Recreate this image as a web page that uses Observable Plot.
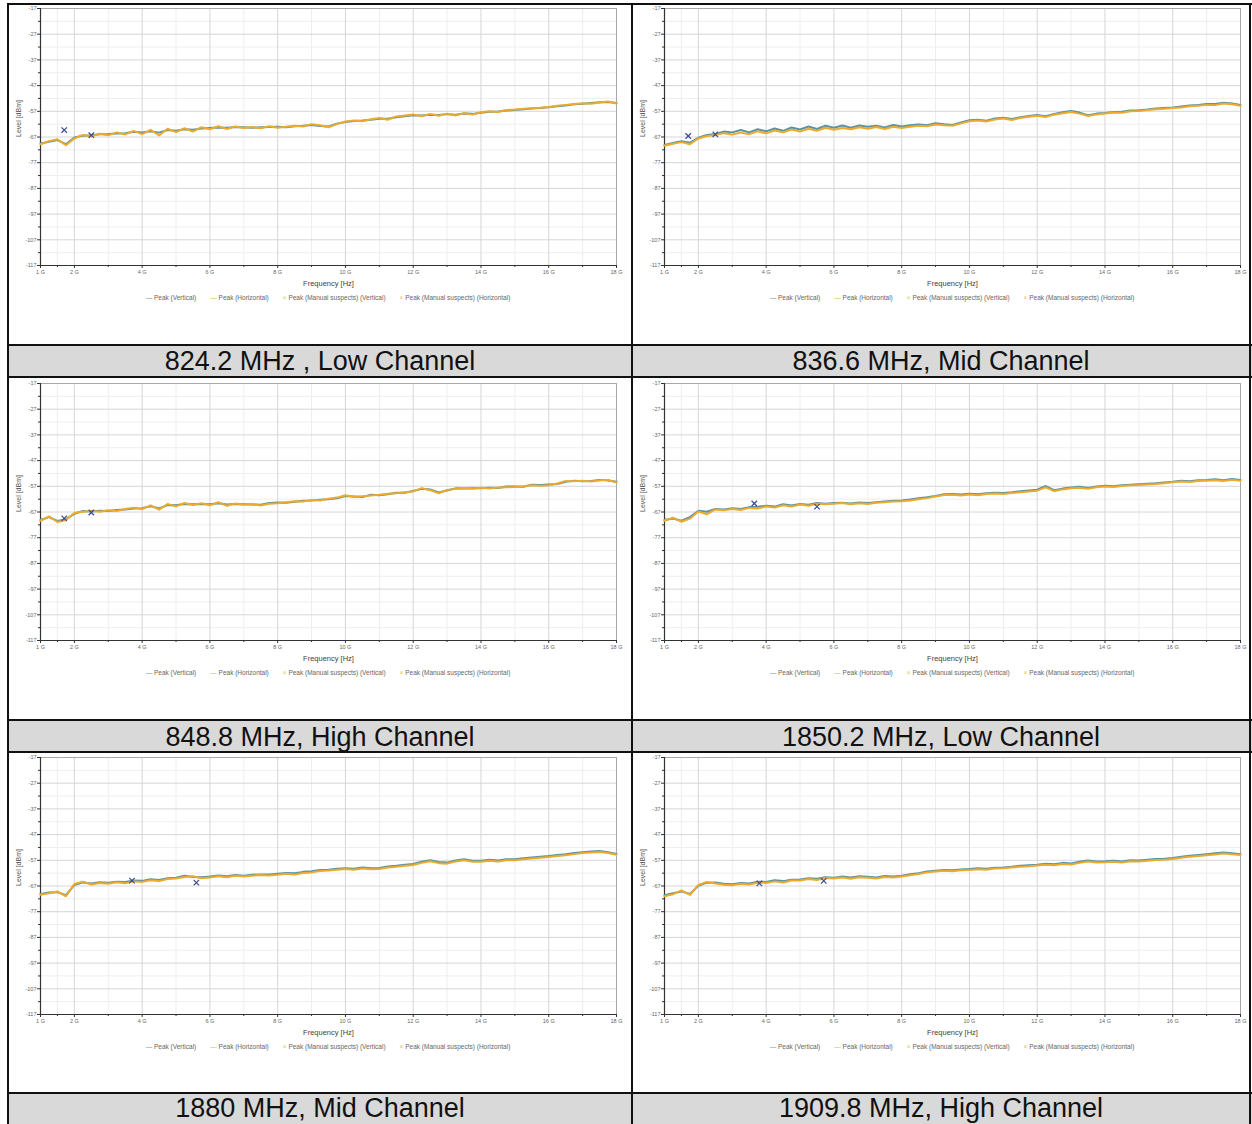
<!DOCTYPE html>
<html><head><meta charset="utf-8">
<script src="https://cdn.jsdelivr.net/npm/d3@7"></script>
<script src="https://cdn.jsdelivr.net/npm/@observablehq/plot@0.6"></script>
<style>
body{margin:0;background:#fff;}
#page{position:relative;width:1252px;height:1124px;overflow:hidden;background:#fff;font-family:"Liberation Sans",Arial,sans-serif;}
.vline{position:absolute;background:#111;width:2px;}
.hline{position:absolute;background:#111;height:2px;}
.band{position:absolute;background:#d9d9d9;border-top:2px solid #111;border-bottom:2px solid #111;box-sizing:border-box;}
.cap{position:absolute;text-align:center;font-size:27px;color:#111;white-space:nowrap;}
.plot{position:absolute;}
.legend{position:absolute;font-size:6.5px;color:#666;white-space:nowrap;text-align:center;font-family:"Liberation Sans",Arial,sans-serif;}
.legend span.item{margin:0 7px;}
</style></head>
<body><div id="page"></div>
<script>
// ---------- data ----------
const captions = ["824.2 MHz , Low Channel","836.6 MHz, Mid Channel","848.8 MHz, High Channel","1850.2 MHz, Low Channel","1880 MHz, Mid Channel","1909.8 MHz, High Channel"];
const seriesNames = ["Peak (Vertical)","Peak (Horizontal)","Peak (Manual suspects) (Vertical)","Peak (Manual suspects) (Horizontal)"];
const xTicks = [1,2,4,6,8,10,12,14,16,18];
const xTickLabels = ["1 G","2 G","4 G","6 G","8 G","10 G","12 G","14 G","16 G","18 G"];
const yTicks = [-17,-27,-37,-47,-57,-67,-77,-87,-97,-107,-117];
const yTickLabels = ["-17","-27","-37","-47","-57","-67","-77","-87","-97","-107","-117"];
const minorX = [1.5,3,5,7,9,11,13,15,17];
const minorY = [-22,-32,-42,-52,-62,-72,-82,-92,-102,-112];
const xAxisTitle = "Frequency [Hz]";
const yAxisTitle = "Level [dBm]";

const freqGHz = [1,1.25,1.5,1.75, 2,2.25,2.5,2.75, 3,3.25,3.5,3.75, 4,4.25,4.5,4.75, 5,5.25,5.5,5.75, 6,6.25,6.5,6.75, 7,7.25,7.5,7.75, 8,8.25,8.5,8.75, 9,9.25,9.5,9.75, 10,10.25,10.5,10.75, 11,11.25,11.5,11.75, 12,12.25,12.5,12.75, 13,13.25,13.5,13.75, 14,14.25,14.5,14.75, 15,15.25,15.5,15.75, 16,16.25,16.5,16.75, 17,17.25,17.5,17.75, 18];

// 824.2 MHz
const p1Horizontal = [-69.8,-68.6,-67.9,-70.2, -67.6,-66.2,-66.8,-65.7, -66.3,-65.2,-66.0,-64.6, -65.9,-64.2,-66.4,-63.8, -65.1,-63.6,-64.9,-63.2, -64.0,-62.8,-63.9,-62.9, -63.5,-63.1,-63.6,-62.8, -63.4,-63.0,-62.6,-62.9, -62.0,-62.4,-63.2,-62.0, -61.0,-60.6,-60.9,-60.1, -59.6,-60.3,-59.0,-58.6, -58.2,-58.9,-58.0,-58.7, -57.9,-58.6,-57.7,-58.3, -57.4,-57.0,-57.3,-56.5, -56.3,-56.0,-55.8,-55.6, -55.3,-54.8,-54.5,-54.2, -53.9,-54.1,-53.6,-53.2, -54.0];
const p1Vertical = [-69.5,-68.9,-68.2,-69.8, -67.2,-66.5,-66.3,-65.9, -65.8,-65.6,-65.5,-65.0, -65.2,-64.8,-65.3,-64.3, -64.6,-64.0,-64.2,-63.7, -63.5,-63.3,-63.4,-63.1, -63.2,-63.4,-63.2,-63.1, -63.0,-63.2,-62.8,-62.6, -62.3,-62.7,-62.9,-61.8, -61.2,-60.8,-60.6,-60.3, -59.9,-59.9,-59.3,-58.9, -58.5,-58.6,-58.3,-58.4, -58.1,-58.3,-57.9,-58.0, -57.6,-57.2,-57.1,-56.7, -56.5,-56.2,-55.9,-55.7, -55.4,-55.0,-54.7,-54.3, -54.1,-53.8,-53.5,-53.4, -53.8];
const p1Suspects = [[1.7,-64.3],[2.5,-66.3]];

// 836.6 MHz
const p2Horizontal = [-70.4,-69.6,-69.0,-69.8, -67.6,-66.6,-66.2,-65.5, -66.0,-65.3,-65.9,-64.8, -65.6,-64.5,-65.2,-64.1, -64.9,-63.8,-64.6,-63.4, -64.2,-63.5,-64.0,-63.2, -63.8,-63.1,-63.9,-63.0, -63.5,-63.0,-62.6,-62.8, -62.1,-62.4,-62.6,-61.7, -60.9,-60.6,-61.0,-60.2, -59.8,-60.4,-59.6,-59.1, -58.7,-59.2,-58.3,-57.8, -57.3,-57.9,-58.8,-58.2, -57.9,-57.5,-57.6,-57.0, -56.9,-56.5,-56.2,-56.0, -55.7,-55.5,-55.0,-54.8, -54.5,-54.6,-54.0,-54.3, -54.8];
const p2Vertical = [-70.1,-69.3,-68.6,-69.2, -67.3,-66.2,-65.8,-64.9, -65.2,-64.3,-65.2,-64.0, -64.8,-63.7,-64.6,-63.3, -64.1,-62.9,-63.9,-62.6, -63.4,-62.5,-63.4,-62.5, -63.0,-62.6,-63.3,-62.3, -62.9,-62.4,-62.1,-62.4, -61.6,-62.0,-62.3,-61.3, -60.5,-60.3,-60.7,-59.8, -59.5,-60.0,-59.3,-58.8, -58.4,-58.9,-58.0,-57.4, -56.9,-57.5,-58.5,-57.9, -57.7,-57.3,-57.2,-56.7, -56.6,-56.3,-55.9,-55.7, -55.5,-55.1,-54.7,-54.5, -54.2,-54.2,-53.7,-54.0, -54.5];
const p2Suspects = [[1.7,-66.6],[2.5,-66.0]];

// 848.8 MHz
const p3Horizontal = [-70.4,-68.7,-70.9,-70.1, -67.4,-66.9,-66.5,-66.9, -66.3,-66.6,-65.8,-65.3, -65.9,-64.4,-66.1,-63.9, -64.8,-63.5,-64.3,-63.6, -64.4,-63.2,-64.6,-63.7, -64.2,-63.9,-64.5,-63.8, -63.6,-63.2,-62.8,-62.9, -62.3,-62.5,-61.8,-61.4, -60.5,-61.2,-60.9,-60.6, -60.3,-59.9,-59.7,-59.3, -59.0,-57.7,-58.5,-59.7, -58.4,-58.0,-57.7,-58.0, -57.6,-57.9,-57.5,-57.4, -57.3,-57.0,-56.6,-56.8, -56.6,-55.9,-54.9,-55.0, -54.8,-55.1,-54.7,-54.5, -55.5];
const p3Vertical = [-70.1,-69.0,-70.5,-69.8, -67.7,-66.6,-66.8,-66.5, -66.6,-66.2,-66.0,-65.6, -65.5,-64.8,-65.6,-64.3, -64.4,-63.9,-64.0,-63.9, -64.0,-63.6,-64.1,-63.9, -64.0,-64.1,-64.2,-63.5, -63.3,-63.4,-63.0,-62.6, -62.5,-62.2,-62.0,-61.7, -60.8,-61.0,-61.2,-60.3, -60.5,-60.1,-59.5,-59.5, -58.8,-58.0,-58.2,-59.4, -58.6,-57.8,-57.9,-57.8, -57.8,-57.6,-57.7,-57.1, -57.1,-57.2,-56.4,-56.5, -56.3,-56.1,-55.2,-54.8, -55.0,-54.9,-54.5,-54.7, -55.2];
const p3Suspects = [[1.7,-69.5],[2.5,-67.2]];

// 1850.2 MHz
const p4Horizontal = [-70.4,-69.2,-70.8,-69.6, -66.8,-67.9,-66.0,-66.3, -65.8,-66.2,-65.4,-65.6, -64.9,-65.3,-64.4,-64.9, -64.1,-64.6,-63.8,-64.0, -63.8,-63.5,-64.0,-63.6, -63.9,-63.4,-63.2,-62.9, -62.8,-62.5,-62.0,-61.6, -61.0,-60.4,-60.3,-60.6, -60.2,-60.5,-60.0,-59.8, -60.0,-59.6,-59.3,-59.0, -58.7,-57.4,-58.9,-58.2, -57.8,-57.6,-58.0,-57.4, -57.1,-57.3,-56.9,-56.6, -56.5,-56.3,-56.1,-55.8, -55.4,-55.1,-55.3,-54.9, -54.8,-54.6,-54.9,-54.5, -54.8];
const p4Vertical = [-70.1,-69.5,-70.4,-69.0, -66.5,-66.9,-65.8,-66.0, -65.5,-65.8,-65.1,-65.0, -64.6,-64.9,-64.0,-64.5, -63.9,-64.2,-63.5,-63.8, -63.5,-63.4,-63.7,-63.3, -63.5,-63.2,-62.9,-62.6, -62.5,-62.1,-61.6,-61.3, -60.8,-60.1,-60.0,-60.2, -59.9,-60.1,-59.7,-59.5, -59.6,-59.3,-58.9,-58.6, -58.3,-56.9,-58.5,-57.9, -57.5,-57.2,-57.7,-57.1, -56.8,-57.0,-56.6,-56.4, -56.2,-56.0,-55.8,-55.5, -55.2,-54.8,-55.0,-54.6, -54.5,-54.3,-54.6,-54.2, -54.5];
const p4Suspects = [[3.65,-63.7],[5.5,-64.9]];

// 1880 MHz
const p5Horizontal = [-70.4,-69.8,-69.1,-71.0, -66.2,-65.3,-66.4,-65.8, -66.1,-65.5,-65.9,-65.2, -65.4,-64.8,-65.1,-64.3, -64.1,-63.5,-63.2,-64.0, -63.7,-63.2,-63.6,-63.0, -63.3,-63.0,-62.7,-62.9, -62.6,-62.2,-62.5,-61.9, -61.7,-61.2,-61.0,-60.7, -60.4,-60.7,-60.2,-60.5, -60.4,-59.8,-59.5,-59.1, -58.8,-58.0,-57.4,-58.1, -58.3,-57.5,-57.0,-57.6, -57.6,-57.2,-57.5,-57.0, -57.0,-56.6,-56.3,-56.0, -55.7,-55.3,-55.0,-54.6, -54.2,-54.0,-53.8,-54.2, -54.8];
const p5Vertical = [-70.1,-69.5,-69.4,-70.6, -66.6,-65.6,-66.0,-65.5, -65.7,-65.3,-65.4,-64.9, -65.0,-64.4,-64.7,-64.0, -63.8,-63.0,-63.5,-63.6, -63.3,-62.9,-63.2,-62.7, -63.0,-62.6,-62.5,-62.5, -62.2,-61.9,-62.0,-61.5, -61.3,-60.8,-60.7,-60.3, -60.1,-60.3,-59.8,-60.1, -60.0,-59.4,-59.1,-58.7, -58.4,-57.6,-57.0,-57.7, -57.9,-57.1,-56.6,-57.2, -57.2,-56.8,-57.1,-56.6, -56.6,-56.2,-55.9,-55.6, -55.3,-54.9,-54.6,-54.2, -53.9,-53.6,-53.4,-53.9, -54.5];
const p5Suspects = [[3.7,-64.9],[5.6,-65.7]];

// 1909.8 MHz
const p6Horizontal = [-71.0,-70.2,-68.7,-70.5, -66.6,-65.4,-66.0,-66.5, -66.7,-66.1,-66.4,-65.7, -65.8,-65.2,-65.6,-64.9, -64.9,-64.3,-64.7,-63.9, -64.1,-63.7,-64.2,-63.6, -63.8,-64.1,-63.5,-63.7, -63.3,-62.8,-62.3,-61.7, -61.4,-61.1,-61.3,-60.9, -60.8,-60.5,-60.7,-60.2, -60.1,-59.8,-59.5,-59.3, -59.0,-58.7,-58.9,-58.4, -58.6,-58.0,-57.5,-57.9, -57.8,-57.6,-57.9,-57.4, -57.5,-57.2,-56.9,-56.8, -56.5,-56.0,-55.6,-55.3, -55.0,-54.7,-54.4,-54.6, -54.9];
const p6Vertical = [-70.6,-69.8,-69.1,-70.1, -66.9,-65.7,-65.6,-66.1, -66.3,-65.8,-66.0,-65.3, -65.4,-64.8,-65.1,-64.6, -64.5,-64.0,-64.2,-63.6, -63.8,-63.3,-63.7,-63.2, -63.4,-63.7,-63.1,-63.3, -63.0,-62.4,-62.0,-61.4, -61.1,-60.8,-60.9,-60.6, -60.4,-60.1,-60.3,-59.9, -59.8,-59.5,-59.1,-58.9, -58.7,-58.3,-58.5,-58.0, -58.2,-57.6,-57.1,-57.5, -57.4,-57.2,-57.5,-57.0, -57.1,-56.8,-56.5,-56.4, -56.1,-55.6,-55.2,-54.9, -54.6,-54.3,-54.0,-54.3, -54.6];
const p6Suspects = [[3.8,-66.0],[5.7,-65.0]];

// ---------- styles / layout ----------
const colV = "#5a93a2", colH = "#ecab2c", colM = "#3b4a8c";
const legendColors = ["#7d9aa6","#c9c45a","#dccb3a","#e6c23a"];
const panels = [
  {cap: captions[0], h: p1Horizontal, v: p1Vertical, m: p1Suspects, col: 0, plotTop: 8},
  {cap: captions[1], h: p2Horizontal, v: p2Vertical, m: p2Suspects, col: 1, plotTop: 8},
  {cap: captions[2], h: p3Horizontal, v: p3Vertical, m: p3Suspects, col: 0, plotTop: 383},
  {cap: captions[3], h: p4Horizontal, v: p4Vertical, m: p4Suspects, col: 1, plotTop: 383},
  {cap: captions[4], h: p5Horizontal, v: p5Vertical, m: p5Suspects, col: 0, plotTop: 757},
  {cap: captions[5], h: p6Horizontal, v: p6Vertical, m: p6Suspects, col: 1, plotTop: 757}
];
const bands = [{top: 344, textCenter: 361}, {top: 719, textCenter: 737}, {top: 1092, textCenter: 1108}];

const page = document.getElementById("page");
function el(cls, css, html){ const d = document.createElement("div"); d.className = cls; Object.assign(d.style, css); if (html != null) d.innerHTML = html; page.appendChild(d); return d; }

// table lines and caption bands
el("hline", {left: "7px", top: "3px", width: "1245px"});
bands.forEach(b => el("band", {left: "7px", top: b.top + "px", width: "1245px", height: "34px"}));
el("vline", {left: "7px", top: "3px", height: "1121px"});
el("vline", {left: "631px", top: "3px", height: "1121px"});
el("vline", {left: "1249px", top: "3px", height: "1121px"});

panels.forEach((p, k) => {
  const b = bands[Math.floor(k / 2)];
  const left = p.col === 0 ? 9 : 633;
  const width = p.col === 0 ? 622 : 616;
  el("cap", {left: left + "px", width: width + "px", top: (b.textCenter - 15) + "px", height: "30px", lineHeight: "30px"}, p.cap);

  const data = freqGHz.map((f, i) => ({f, h: p.h[i], v: p.v[i]}));
  const marginTop = 6, marginLeft = 31, marginRight = p.col === 0 ? 15 : 9;
  const svg = Plot.plot({
    width, height: 293, marginTop, marginBottom: 30, marginLeft, marginRight,
    style: {background: "transparent", fontFamily: "'Liberation Sans', Arial, sans-serif", overflow: "visible"},
    x: {domain: [1, 18]},
    y: {domain: [-117, -17]},
    marks: [
      Plot.gridX(minorX, {stroke: "#eeeeee", strokeOpacity: 1}),
      Plot.gridY(minorY, {stroke: "#eeeeee", strokeOpacity: 1}),
      Plot.gridX(xTicks, {stroke: "#d6d6d6", strokeOpacity: 1}),
      Plot.gridY(yTicks, {stroke: "#d6d6d6", strokeOpacity: 1}),
      Plot.frame({stroke: "#a8a8a8"}),
      Plot.axisY(minorY, {tickSize: 2, tickFormat: () => "", stroke: "#333", label: null}),
      Plot.axisX(minorX, {tickSize: 2, tickFormat: () => "", stroke: "#333", label: null}),
      Plot.axisY(yTicks, {tickSize: 3, tickPadding: 1, tickFormat: d => yTickLabels[yTicks.indexOf(d)], fontSize: 5.5, color: "#666", stroke: "#333", label: null}),
      Plot.axisX(xTicks, {tickSize: 3, tickPadding: 2, tickFormat: d => xTickLabels[xTicks.indexOf(d)], fontSize: 5.5, color: "#666", stroke: "#333", label: null}),
      Plot.ruleX([1], {stroke: "#333", strokeWidth: 1.2}),
      Plot.ruleY([-117], {stroke: "#333", strokeWidth: 1.2}),
      Plot.line(data, {x: "f", y: "v", stroke: colV, strokeWidth: 2}),
      Plot.line(data, {x: "f", y: "h", stroke: colH, strokeWidth: 2}),
      Plot.dot(p.m, {x: d => d[0], y: d => d[1], symbol: "times", r: 2.6, stroke: colM, strokeWidth: 1.2}),
      Plot.text([yAxisTitle], {frameAnchor: "left", dx: -22, rotate: -90, fontSize: 7, fill: "#555"}),
      Plot.text([xAxisTitle], {frameAnchor: "bottom", dy: 20, fontSize: 7.5, fill: "#444"})
    ]
  });
  const holder = el("plot", {left: left + "px", top: (p.plotTop - marginTop) + "px"});
  holder.appendChild(svg);

  const syms = ["\u2014", "\u2014", "\u00d7", "\u00d7"];
  const leg = seriesNames.map((n, i) => `<span class="item"><span style="color:${legendColors[i]}">${syms[i]}</span> ${n}</span>`).join("");
  el("legend", {left: (left + marginLeft) + "px", width: (width - marginLeft - marginRight) + "px", top: (p.plotTop + 286) + "px"}, leg);
});
</script>
</body></html>
